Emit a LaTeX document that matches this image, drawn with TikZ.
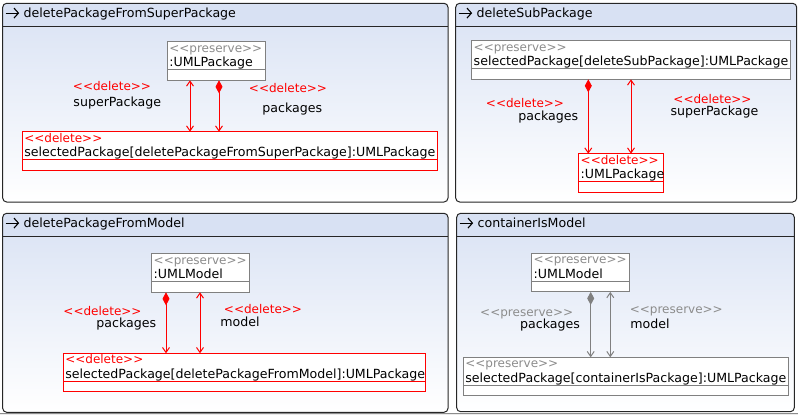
\documentclass[tikz,border=0pt]{standalone}
\usepackage{fontspec}
\setmainfont{DejaVu Sans}
\usetikzlibrary{arrows.meta,calc}
\definecolor{hdr}{HTML}{D8E1F3}
\definecolor{bodytop}{HTML}{D9E2F4}
\definecolor{umlred}{HTML}{FF0000}
\definecolor{umlgrey}{HTML}{8C8C8C}
\definecolor{boxgrey}{HTML}{808080}
\newcommand\stfont{\fontsize{12}{14}\selectfont}
\newcommand\umlpanel[6]{%
  \begin{scope}
    \clip[rounded corners=4pt] (#2,#3) rectangle (#4,#5);
    \shade[top color=bodytop, bottom color=white] (#2,#3) rectangle (#4,#5);
    \fill[hdr] (#2,#3) rectangle (#4,#3+23.4);
  \end{scope}
  \node[panelbox, minimum width=#4pt-#2pt, minimum height=#5pt-#3pt] (#1) at (#2,#3) {};
  \draw[line width=1pt, black!85] ($(#1.north west)+(0,23.4)$) -- ($(#1.north east)+(0,23.4)$);
  \coordinate (#1ia) at (#2+3,#3+9.8);
  \coordinate (#1ib) at (#2+16.5,#3+9.8);
  \draw[line width=1.1pt, -{Straight Barb[length=4.5pt,width=10pt]}] (#1ia) -- (#1ib);
  \node[anchor=base west] (#1t) at (#2+21,#3+14) {#6};
}
\newcommand\umlclass[8]{%
  \node[clsbox, draw=#5, minimum width=#4pt] (#1) at (#2,#3) {};
  \draw[#5, line width=1pt] ($(#1.north west)+(0,28)$) -- ($(#1.north east)+(0,28)$);
  \node[anchor=base west, text=#6, font=\stfont] (#1s) at ($(#1.north west)+(2,10.5)$) {#7};
  \node[anchor=base west] (#1n) at ($(#1.north west)+(2,25)$) {#8};
}
\begin{document}
\begin{tikzpicture}[x=1pt,y=-1pt,
  font=\fontsize{12.6}{14}\selectfont,
  every node/.style={inner sep=0pt, outer sep=0pt},
  panelbox/.style={draw=black!85, line width=1pt, rounded corners=4pt, anchor=north west},
  clsbox/.style={line width=1pt, fill=white, anchor=north west, minimum height=38.6pt},
  lbl/.style={anchor=base},
  redlbl/.style={anchor=base, text=umlred, font=\stfont},
  greylbl/.style={anchor=base, text=umlgrey, font=\stfont},
  tip/.tip={Straight Barb[length=5pt,width=7pt]},
  dia/.tip={Diamond[length=13pt,width=7pt]},
  bidir/.style={line width=1pt, tip-tip},
  comp/.style={line width=1pt, dia-tip},
]
\useasboundingbox (0,0) rectangle (798,415);
\fill[black!8] (0,413) rectangle (798,415);
\draw[black!45, line width=0.8pt] (0,413.2) -- (798,413.2);

% ---------- panel 1
\umlpanel{pa}{2.7}{3.3}{448}{202}{deletePackageFromSuperPackage}
\umlclass{pa1}{167.3}{41.7}{98}{boxgrey}{umlgrey}{<{}<preserve>{}>}{:UMLPackage}
\umlclass{pa2}{22.3}{131.7}{415}{umlred}{umlred}{<{}<delete>{}>}{selectedPackage[deletePackageFromSuperPackage]:UMLPackage}
\coordinate (pax1) at (190,0);
\coordinate (pax2) at (219,0);
\draw[bidir, umlred] (pa1.south -| pax1) -- (pa2.north -| pax1);
\draw[comp, umlred] (pa1.south -| pax2) -- (pa2.north -| pax2);
\node[redlbl] (pal1) at (112,90) {<{}<delete>{}>};
\node[lbl] (pal2) at (117.3,106.7) {superPackage};
\node[redlbl] (pal3) at (288,92.7) {<{}<delete>{}>};
\node[lbl] (pal4) at (292.3,112) {packages};

% ---------- panel 2
\umlpanel{pb}{455.7}{3.3}{796.7}{202}{deleteSubPackage}
\umlclass{pb1}{471.7}{40.7}{318.3}{boxgrey}{umlgrey}{<{}<preserve>{}>}{selectedPackage[deleteSubPackage]:UMLPackage}
\umlclass{pb2}{578.7}{153.7}{84.6}{umlred}{umlred}{<{}<delete>{}>}{:UMLPackage}
\coordinate (pbx1) at (588.3,0);
\coordinate (pbx2) at (631,0);
\draw[comp, umlred] (pb1.south -| pbx1) -- (pb2.north -| pbx1);
\draw[bidir, umlred] (pb1.south -| pbx2) -- (pb2.north -| pbx2);
\node[redlbl] (pbl1) at (525,107.3) {<{}<delete>{}>};
\node[lbl] (pbl2) at (548.3,120.7) {packages};
\node[redlbl] (pbl3) at (712.5,103.3) {<{}<delete>{}>};
\node[lbl] (pbl4) at (714.5,115.3) {superPackage};

% ---------- panel 3
\umlpanel{pc}{2.7}{213.3}{448}{412.3}{deletePackageFromModel}
\umlclass{pc1}{151.7}{253.7}{97.6}{boxgrey}{umlgrey}{<{}<preserve>{}>}{:UMLModel}
\umlclass{pc2}{63.3}{353.3}{362}{umlred}{umlred}{<{}<delete>{}>}{selectedPackage[deletePackageFromModel]:UMLPackage}
\coordinate (pcx1) at (166,0);
\coordinate (pcx2) at (200,0);
\draw[comp, umlred] (pc1.south -| pcx1) -- (pc2.north -| pcx1);
\draw[bidir, umlred] (pc1.south -| pcx2) -- (pc2.north -| pcx2);
\node[redlbl] (pcl1) at (102.5,315) {<{}<delete>{}>};
\node[lbl] (pcl2) at (126.3,327.2) {packages};
\node[redlbl] (pcl3) at (263,313.3) {<{}<delete>{}>};
\node[lbl] (pcl4) at (240,326.7) {model};

% ---------- panel 4
\umlpanel{pd}{456.7}{213.3}{794.3}{411.7}{containerIsModel}
\umlclass{pd1}{531.7}{253.3}{97.6}{boxgrey}{umlgrey}{<{}<preserve>{}>}{:UMLModel}
\umlclass{pd2}{463.3}{357.3}{325.4}{boxgrey}{umlgrey}{<{}<preserve>{}>}{selectedPackage[containerIsPackage]:UMLPackage}
\coordinate (pdx1) at (590.7,0);
\coordinate (pdx2) at (610.3,0);
\draw[comp, boxgrey] (pd1.south -| pdx1) -- (pd2.north -| pdx1);
\draw[bidir, boxgrey] (pd1.south -| pdx2) -- (pd2.north -| pdx2);
\node[greylbl] (pdl1) at (526.7,316.7) {<{}<preserve>{}>};
\node[lbl] (pdl2) at (550,328.3) {packages};
\node[greylbl] (pdl3) at (676.3,313.3) {<{}<preserve>{}>};
\node[lbl] (pdl4) at (650,328.3) {model};
\end{tikzpicture}
\end{document}
